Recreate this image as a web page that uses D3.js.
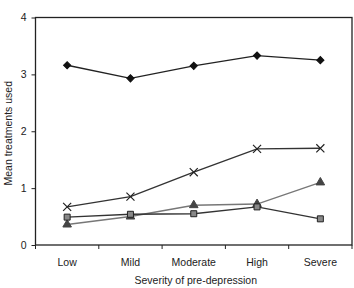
<!DOCTYPE html>
<html>
<head>
<meta charset="utf-8">
<script src="https://cdn.jsdelivr.net/npm/d3@7"></script>
<style>
  body { margin: 0; background: #fff; }
  text { font-family: "Liberation Sans", Arial, sans-serif; fill: #222; }
</style>
</head>
<body>
<svg id="chart" width="354" height="288"></svg>
<script>
"use strict";

// categories along the x axis
var severity = ["Low", "Mild", "Moderate", "High", "Severe"];
var yTicks = [0, 1, 2, 3, 4];

// series values
var diamondVals = [3.16, 2.93, 3.15, 3.33, 3.25];
var crossVals = [0.67, 0.85, 1.28, 1.69, 1.70];
var triangleVals = [0.36, 0.50, 0.70, 0.72, 1.10];
var squareVals = [0.49, 0.54, 0.55, 0.67, 0.46];

// diamond is just a square turned 45 degrees
var series = [
  { name: "triangle", values: triangleVals, line: "#777", marker: d3.symbolTriangle, fill: "#444", stroke: "#444", size: 32, rot: 0 },
  { name: "square", values: squareVals, line: "#333", marker: d3.symbolSquare, fill: "#888", stroke: "#222", size: 36, rot: 0 },
  { name: "cross", values: crossVals, line: "#333", marker: d3.symbolX, fill: "none", stroke: "#222", size: 44, rot: 0 },
  { name: "diamond", values: diamondVals, line: "#222", marker: d3.symbolSquare, fill: "#111", stroke: "#111", size: 26, rot: 45 }
];

var svg = d3.select("#chart");
var plotL = 35.5, plotR = 352, plotT = 17.5, plotB = 245;

var x = d3.scaleBand().domain(severity).range([plotL, plotR]);
var y = d3.scaleLinear().domain([0, 4]).range([plotB, plotT]);

// plot frame
svg.append("rect")
  .attr("x", plotL).attr("y", plotT)
  .attr("width", plotR - plotL).attr("height", plotB - plotT)
  .attr("fill", "none").attr("stroke", "#222").attr("stroke-width", 1.3);

// x axis: ticks sit between the categories
var xAxis = svg.append("g").attr("transform", "translate(0," + plotB + ")");
xAxis.selectAll("line.tick")
  .data(severity.concat(["end"]))
  .enter().append("line")
  .attr("class", "tick")
  .attr("x1", function (d, i) { return plotL + i * x.bandwidth(); })
  .attr("x2", function (d, i) { return plotL + i * x.bandwidth(); })
  .attr("y1", 0).attr("y2", 4)
  .attr("stroke", "#222");
xAxis.selectAll("text")
  .data(severity)
  .enter().append("text")
  .attr("x", function (d) { return x(d) + x.bandwidth() / 2; })
  .attr("y", 21)
  .attr("text-anchor", "middle")
  .attr("font-size", "10.5px")
  .text(function (d) { return d; });

// y axis
var yAxis = d3.axisLeft(y).tickValues(yTicks).tickSize(4).tickPadding(5).tickFormat(d3.format("d"));
svg.append("g")
  .attr("transform", "translate(" + plotL + ",0)")
  .call(yAxis)
  .call(function (g) { g.select(".domain").remove(); })
  .call(function (g) {
    g.selectAll("line").attr("stroke", "#222");
    g.selectAll("text").attr("font-size", "10.5px").attr("fill", "#222")
      .attr("font-family", "Liberation Sans, Arial, sans-serif");
  });

// axis titles
svg.append("text")
  .attr("x", (plotL + plotR) / 2 + 2).attr("y", 284)
  .attr("text-anchor", "middle")
  .attr("font-size", "10.5px")
  .text("Severity of pre-depression");

svg.append("text")
  .attr("transform", "translate(12," + ((plotT + plotB) / 2 + 2) + ") rotate(-90)")
  .attr("text-anchor", "middle")
  .attr("font-size", "10.5px")
  .text("Mean treatments used");

var line = d3.line()
  .x(function (d, i) { return x(severity[i]) + x.bandwidth() / 2; })
  .y(function (d) { return y(d); });

series.forEach(function (s) {
  var g = svg.append("g").attr("class", s.name);
  g.append("path")
    .datum(s.values)
    .attr("d", line)
    .attr("fill", "none")
    .attr("stroke", s.line)
    .attr("stroke-width", 1.4);

  g.selectAll("path.marker")
    .data(s.values)
    .enter().append("path")
    .attr("class", "marker")
    .attr("transform", function (d, i) {
      return "translate(" + (x(severity[i]) + x.bandwidth() / 2) + "," + y(d) + ") rotate(" + s.rot + ")";
    })
    .attr("d", d3.symbol().type(s.marker).size(s.size))
    .attr("fill", s.fill)
    .attr("stroke", s.stroke)
    .attr("stroke-width", s.name === "cross" ? 1.2 : 1);
});
</script>
</body>
</html>
